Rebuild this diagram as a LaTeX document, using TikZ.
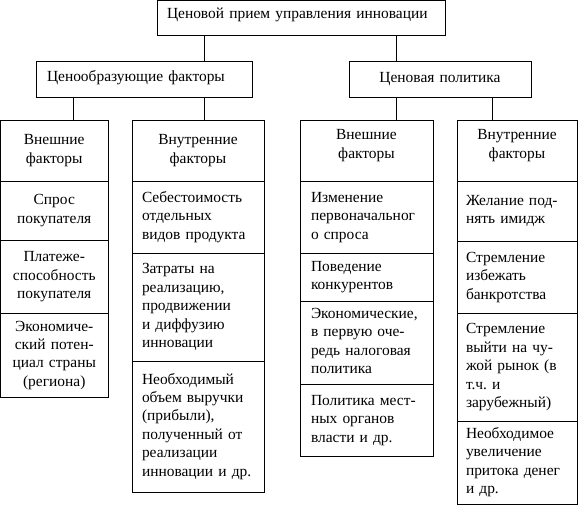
\documentclass[tikz,border=0pt]{standalone}
\usepackage{fontspec}
\setmainfont{Liberation Serif}
\newfontfamily\serifcell{Liberation Serif}
\hyphenpenalty=10000
\newcommand{\cellfont}{\serifcell\fontsize{15.5}{18.5}\selectfont}
\begin{document}
\begin{tikzpicture}[x=1bp,y=-1bp, line width=0.8pt,
  every node/.style={font=\cellfont},
  box/.style={draw, rectangle, outer sep=0pt, inner ysep=0pt, anchor=north west,
    execute at begin node=\strut, execute at end node=\strut},
  colA/.style={box, minimum width=107.5bp, inner xsep=2bp, text width=103.5bp, align=center},
  colB/.style={box, minimum width=132bp, inner xsep=10bp, text width=112bp, align=left},
  colC/.style={box, minimum width=133bp, inner xsep=11bp, text width=111bp, align=left},
  colD/.style={box, minimum width=120bp, inner xsep=9bp, text width=102bp, align=left},
  head/.style={align=center},
  headtop/.style={align=center, text depth=34bp},
  link/.style={draw, line width=0.8pt}
]
\useasboundingbox (0,0) rectangle (578,506);

% top level
\node[box, minimum width=288bp, minimum height=35bp, inner xsep=10bp, text width=268bp, align=left, text depth=12.5bp] (top) at (157,0.5) {Ценовой прием управления инновации};

% second level
\node[box, minimum width=216bp, minimum height=36bp, inner xsep=11bp, text width=194bp, align=left, text depth=8.5bp] (lf) at (36,61) {Ценообразующие факторы};
\node[box, minimum width=182bp, minimum height=36bp, inner xsep=8bp, text width=166bp, align=center] (rt) at (349,61) {Ценовая политика};

% column 1
\node[colA, minimum height=61bp] (a1) at (0.5,120) {Внешние\\факторы};
\node[colA, minimum height=59bp] (a2) at (0.5,181) {Спрос\\покупателя};
\node[colA, minimum height=73bp] (a3) at (0.5,240) {Платеже-\\способность\\покупателя};
\node[colA, minimum height=84bp] (a4) at (0.5,313) {Экономиче-\\ский потен-\\циал страны\\(региона)};

% column 2
\node[colB, head, minimum height=61bp] (b1) at (132,120) {Внутренние\\факторы};
\node[colB, minimum height=72bp] (b2) at (132,181) {Себестоимость\\отдельных\\видов~продукта};
\node[colB, minimum height=108bp] (b3) at (132,253) {Затраты~на\\реализацию,\\продвижении\\и~диффузию\\инновации};
\node[colB, minimum height=131bp] (b4) at (132,361) {Необходимый\\объем~выручки\\(прибыли),\\полученный~от\\реализации\\инновации~и~др.};

% column 3
\node[colC, headtop, minimum height=61bp] (c1) at (300,120) {Внешние\\факторы};
\node[colC, minimum height=72bp] (c2) at (300,181) {Изменение\\первоначальног\\о~спроса};
\node[colC, minimum height=48bp] (c3) at (300,253) {Поведение\\конкурентов};
\node[colC, minimum height=83bp] (c4) at (300,301) {Экономические,\\в~первую~оче-\\редь~налоговая\\политика};
\node[colC, minimum height=72bp] (c5) at (300,384) {Политика~мест-\\ных~органов\\власти~и~др.};

% column 4
\node[colD, headtop, minimum height=61bp] (d1) at (457,120) {Внутренние\\факторы};
\node[colD, minimum height=60bp] (d2) at (457,181) {Желание~под-\\нять~имидж};
\node[colD, minimum height=72bp] (d3) at (457,241) {Стремление\\избежать\\банкротства};
\node[colD, minimum height=108bp] (d4) at (457,313) {Стремление\\выйти~на~чу-\\жой~рынок~(в\\т.ч.~и\\зарубежный)};
\node[colD, minimum height=83bp] (d5) at (457,421) {Необходимое\\увеличение\\притока~денег\\и~др.};

% connector columns
\coordinate (k1) at (204,0);
\coordinate (k2) at (396,0);
\coordinate (k3) at (73,0);
\coordinate (k4) at (492,0);

\draw[link] (k1 |- top.south) -- (k1 |- lf.north);
\draw[link] (k2 |- top.south) -- (k2 |- rt.north);
\draw[link] (k3 |- lf.south) -- (k3 |- a1.north);
\draw[link] (k1 |- lf.south) -- (k1 |- b1.north);
\draw[link] (k2 |- rt.south) -- (k2 |- c1.north);
\draw[link] (k4 |- rt.south) -- (k4 |- d1.north);
\end{tikzpicture}
\end{document}
